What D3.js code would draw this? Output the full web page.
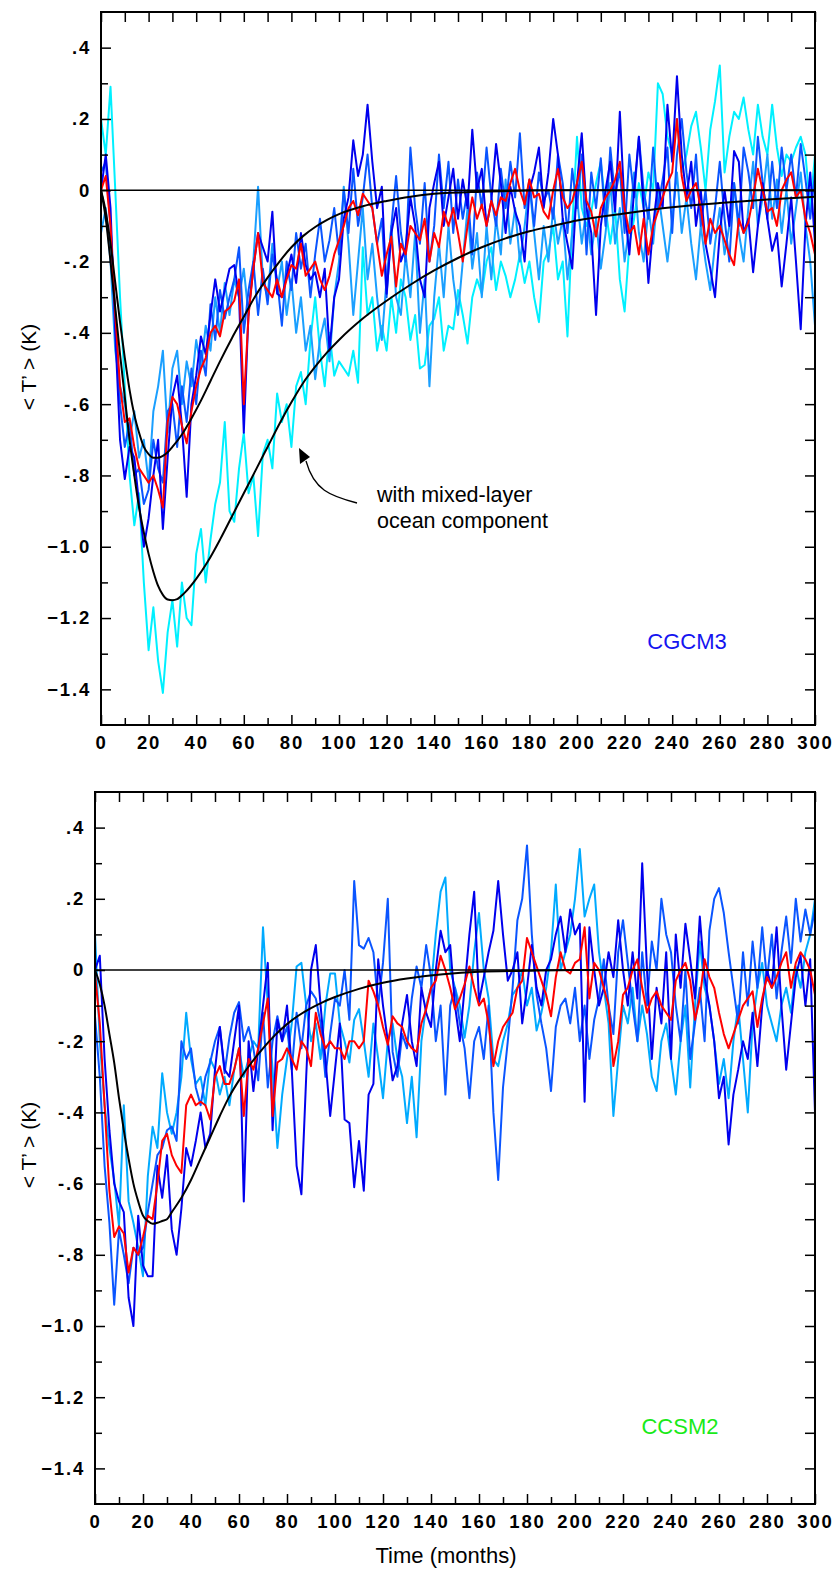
<!DOCTYPE html>
<html>
<head>
<meta charset="utf-8">
<script src="https://cdn.jsdelivr.net/npm/d3@7"></script>
<style>
  body { margin: 0; background: #fff; }
  svg { display: block; font-family: "Liberation Sans", Arial, Helvetica, sans-serif; }
  .tick text { font-weight: bold; font-size: 18.5px; letter-spacing: 1.8px; fill: #000; }
</style>
</head>
<body>
<div id="chart"></div>
<script>
// months sampled every 2 months, 0..300
var months = d3.range(0, 301, 2);

// ---- CGCM3 panel ----
var cgcmDark = [
  0.0, 0.1, -0.05, -0.4, -0.7, -0.81, -0.72, -0.75, -0.88, -1.0,
  -0.92, -0.8, -0.7, -0.95, -0.75, -0.58, -0.52, -0.66, -0.86, -0.6,
  -0.52, -0.41, -0.46, -0.35, -0.25, -0.34, -0.28, -0.22, -0.21, -0.3,
  -0.68, -0.34, -0.22, -0.12, -0.16, -0.2, -0.06, -0.29, -0.3, -0.24,
  -0.18, -0.26, -0.12, -0.21, -0.25, -0.23, -0.3, -0.22, -0.45, -0.3,
  -0.25, -0.08, -0.02, 0.14, 0.04, 0.1, 0.24, 0.08, -0.05, 0.01,
  -0.29, -0.12, -0.05, -0.2, -0.16, -0.02, -0.1, -0.25, -0.3, -0.05,
  0.02, 0.08, -0.1, -0.02, 0.06, -0.08, 0.03, -0.05, 0.17, 0.0,
  0.06, -0.1, -0.03, 0.13, 0.02, -0.12, 0.01, -0.06, -0.1, -0.2,
  0.0, 0.05, 0.12, -0.05, 0.05, 0.2, 0.1, -0.08, -0.15, -0.22,
  0.02, 0.16, -0.05, -0.12, -0.35, -0.1, 0.0, 0.08, -0.06, 0.22,
  -0.05, -0.18, 0.0, 0.15, -0.05, -0.26, -0.1, 0.02, -0.05, 0.24,
  0.08, 0.32, 0.1, -0.02, 0.08, -0.1, 0.0, -0.15, -0.22, -0.3,
  -0.12, 0.0, -0.1, 0.11, 0.08, -0.12, -0.08, -0.23, -0.1, 0.02,
  -0.08, -0.17, -0.12, -0.27, -0.15, -0.02, -0.2, -0.39, -0.1, 0.05,
  -0.15
];
var cgcmMid = [
  0.05, 0.08, -0.1, -0.35, -0.6, -0.72, -0.65, -0.8, -0.78, -0.88,
  -0.84, -0.7, -0.78, -0.82, -0.62, -0.6, -0.72, -0.55, -0.65, -0.5,
  -0.6, -0.45, -0.52, -0.32, -0.42, -0.28, -0.36, -0.3, -0.25, -0.16,
  -0.4, -0.28, -0.2, -0.35, -0.22, -0.32, -0.18, -0.25, -0.38, -0.2,
  -0.28, -0.12, -0.22, -0.15, -0.3, -0.18, -0.08, -0.2, -0.14, -0.05,
  -0.18, 0.0, -0.12, 0.06, -0.1, -0.02, 0.1, -0.05, -0.15, -0.08,
  -0.3, -0.1, 0.04, -0.12, -0.2, 0.12, -0.05, -0.15, 0.02, -0.2,
  -0.1, 0.1, -0.05, 0.08, -0.12, 0.03, -0.08, 0.0, -0.18, 0.05,
  -0.05, 0.12, -0.02, -0.1, 0.06, -0.05, 0.08, -0.02, 0.16, -0.05,
  0.03, -0.1, 0.05, -0.03, 0.0, -0.08, 0.1, 0.02, -0.12, 0.06,
  -0.05, 0.1, -0.18, 0.05, -0.05, 0.09, -0.1, 0.12, -0.02, 0.06,
  -0.12, 0.1, -0.02, 0.15, 0.0, -0.08, 0.12, -0.05, 0.03, 0.12,
  -0.12, 0.1, 0.2, 0.05, -0.05, 0.1, -0.1, 0.0, -0.15, -0.05,
  0.08, -0.08, -0.2, 0.02, -0.1, 0.12, 0.05, -0.05, 0.15, 0.02,
  -0.08, 0.08, -0.05, 0.12, 0.0, 0.1, -0.02, 0.13, 0.03, -0.08,
  0.05
];
var cgcmLight = [
  -0.12, -0.05, -0.2, -0.45, -0.55, -0.6, -0.7, -0.62, -0.75, -0.7,
  -0.82, -0.62, -0.55, -0.45, -0.68, -0.5, -0.45, -0.6, -0.48, -0.55,
  -0.42, -0.5, -0.38, -0.45, -0.3, -0.4, -0.26, -0.35, -0.25, -0.3,
  -0.22, -0.35, -0.2, 0.01, -0.25, -0.3, -0.15, -0.28, -0.2, -0.35,
  -0.25, -0.4, -0.3, -0.45, -0.38, -0.53, -0.42, -0.36, -0.48, -0.3,
  -0.2, 0.01, -0.15, -0.35, -0.2, -0.05, -0.25, -0.15, -0.3, -0.42,
  -0.25, -0.1, -0.3, -0.35, -0.18, -0.3, -0.12, -0.4, -0.25, -0.55,
  -0.3, -0.15, -0.3, -0.1, -0.25, -0.35, -0.2, -0.05, -0.22, -0.12,
  -0.3, -0.1, -0.25, -0.08, -0.18, 0.03, -0.15, -0.05, -0.2, -0.1,
  0.02, -0.12, -0.25, -0.1, -0.2, -0.05, -0.15, -0.08, -0.25, -0.12,
  -0.02, -0.15, -0.05, -0.18, -0.08, -0.22, -0.12, 0.02, -0.15, -0.05,
  -0.2, -0.1, 0.05, -0.12, -0.2, -0.05, -0.15, 0.0, -0.1, -0.2,
  -0.08, 0.05, -0.12, -0.02, -0.15, -0.25, -0.1, -0.2, -0.28, -0.15,
  -0.05, -0.18, -0.1, 0.02, -0.12, -0.2, -0.05, 0.08, -0.1, -0.02,
  0.1, -0.08, 0.03, -0.12, 0.0, -0.15, -0.05, 0.05, -0.1, -0.2,
  -0.38
];
// run with the mixed-layer ocean
var cgcmSlab = [
  0.2, 0.1, 0.29, 0.0, -0.3, -0.55, -0.8, -0.94, -0.85, -1.1,
  -1.29, -1.17, -1.32, -1.41, -1.24, -1.15, -1.28, -1.1, -1.2, -1.22,
  -1.02, -0.95, -1.1, -0.98, -0.88, -0.82, -0.65, -0.9, -0.93, -0.78,
  -0.68, -0.85, -0.8, -0.97, -0.74, -0.7, -0.78, -0.57, -0.65, -0.6,
  -0.72, -0.55, -0.51, -0.6, -0.42, -0.3, -0.45, -0.55, -0.4, -0.52,
  -0.48, -0.5, -0.52, -0.45, -0.54, -0.16, -0.35, -0.3, -0.45, -0.38,
  -0.45, -0.3, -0.4, -0.25, -0.3, -0.42, -0.35, -0.5, -0.49, -0.38,
  -0.36, -0.3, -0.45, -0.38, -0.39, -0.28, -0.35, -0.43, -0.3, -0.25,
  -0.29, -0.2, -0.16, -0.28, -0.2, -0.24, -0.3, -0.25, -0.18, -0.26,
  -0.2, -0.3, -0.37, -0.2, -0.17, -0.1, -0.25, -0.2, -0.41, -0.1,
  0.15, -0.05, -0.1, -0.06, 0.02, 0.08, -0.05, -0.15, -0.05, -0.25,
  -0.34, -0.15, -0.08, 0.02, -0.05, 0.05, 0.0, 0.3, 0.27, 0.15,
  0.1, 0.2, 0.05, 0.1, 0.18, 0.22, 0.12, 0.0, 0.17, 0.25,
  0.35, 0.05, 0.15, 0.22, 0.2, 0.26, 0.17, 0.1, 0.24, 0.15,
  0.1, 0.24, 0.12, 0.04, 0.1, 0.08, 0.12, 0.15, 0.1, -0.05,
  0.1
];
var cgcmMean = [
  0.0, 0.04, -0.1, -0.35, -0.55, -0.65, -0.64, -0.72, -0.78, -0.8,
  -0.82, -0.8, -0.84, -0.89, -0.65, -0.58, -0.6, -0.66, -0.71, -0.62,
  -0.55, -0.5, -0.47, -0.4, -0.38, -0.41, -0.34, -0.33, -0.31, -0.25,
  -0.6, -0.35, -0.22, -0.12, -0.26, -0.28, -0.3, -0.25, -0.3, -0.25,
  -0.21, -0.22, -0.15, -0.24, -0.22, -0.2, -0.25, -0.28, -0.24, -0.18,
  -0.14, -0.1, -0.05, -0.03, -0.07, -0.01, -0.03, -0.05, -0.15, -0.24,
  -0.18, -0.13, -0.27, -0.15, -0.18, -0.1, -0.12, -0.14, -0.08, -0.2,
  -0.12, -0.16, -0.06, -0.1, -0.05, -0.12, -0.2, -0.1, -0.02, -0.08,
  -0.04, -0.1, -0.03, -0.07, -0.02, -0.03, 0.02, 0.06, 0.0, -0.04,
  0.03, -0.02, -0.01, -0.06, -0.08, 0.0, 0.06, -0.02, -0.05, -0.03,
  0.02, 0.08, -0.03, -0.06, -0.13, -0.05, -0.02, 0.0, 0.03, 0.08,
  -0.05, -0.12, -0.1, -0.18, -0.08, -0.18, -0.1, -0.06, -0.02, 0.02,
  0.05, 0.2, 0.04, -0.03, 0.0, 0.02, -0.05, -0.15, -0.08, -0.12,
  -0.1, -0.14, -0.18, -0.21, -0.08, -0.12, -0.09, -0.02, 0.06, 0.0,
  -0.06, -0.05, -0.1, 0.0, 0.03, 0.05, -0.02, 0.0, -0.08, -0.12,
  -0.18
];
// fitted response curves
var cgcmFitMonths = [0, 2, 4, 6, 8, 10, 12, 14, 16, 18, 20, 22, 24, 26, 28, 30, 34, 38, 42, 46, 50, 55, 60, 65, 70, 75, 80, 85, 90, 95, 100, 110, 120, 130, 140, 160, 180, 200, 250, 300];
var cgcmFit = [0, -0.06, -0.15, -0.26, -0.37, -0.47, -0.56, -0.63, -0.68, -0.72, -0.74, -0.75, -0.75, -0.745, -0.735, -0.72, -0.685, -0.64, -0.59, -0.535, -0.48, -0.415, -0.355, -0.295, -0.245, -0.2, -0.16, -0.128, -0.103, -0.083, -0.067, -0.045, -0.03, -0.018, -0.01, -0.004, -0.001, 0, 0, 0];
var slabFitMonths = [0, 2, 4, 6, 8, 10, 12, 14, 16, 18, 20, 22, 24, 26, 28, 30, 32, 35, 40, 45, 50, 55, 60, 65, 70, 75, 80, 85, 90, 95, 100, 110, 120, 130, 140, 150, 160, 170, 180, 190, 200, 220, 240, 260, 280, 300];
var slabFit = [0, -0.08, -0.2, -0.33, -0.46, -0.58, -0.7, -0.8, -0.89, -0.96, -1.02, -1.07, -1.11, -1.135, -1.148, -1.15, -1.147, -1.13, -1.09, -1.04, -0.98, -0.915, -0.85, -0.785, -0.72, -0.655, -0.595, -0.54, -0.495, -0.455, -0.42, -0.36, -0.31, -0.265, -0.225, -0.19, -0.16, -0.135, -0.115, -0.1, -0.085, -0.065, -0.048, -0.036, -0.026, -0.018];

// ---- CCSM2 panel ----
var ccsmDark = [
  0.0, 0.04, -0.25, -0.45, -0.6, -0.65, -0.68, -0.92, -1.0, -0.69,
  -0.83, -0.86, -0.86, -0.55, -0.64, -0.52, -0.73, -0.8, -0.67, -0.5,
  -0.55, -0.48, -0.4, -0.5, -0.46, -0.28, -0.16, -0.28, -0.3, -0.2,
  -0.1, -0.65, -0.2, -0.34, -0.22, -0.1, 0.02, -0.45, -0.14, -0.2,
  -0.1, -0.28, -0.55, -0.63, -0.3, 0.0, 0.07, -0.1, -0.25, -0.41,
  -0.28, -0.15, -0.42, -0.43, -0.61, -0.48, -0.62, -0.35, -0.32, 0.03,
  -0.1, -0.2, -0.31, -0.27, -0.15, -0.07, -0.2, -0.27, -0.05, -0.12,
  -0.16, 0.0, 0.11, 0.05, 0.07, -0.1, -0.2, -0.05, 0.1, 0.22,
  -0.09, -0.02, 0.05, 0.11, 0.25, 0.1, -0.03, 0.0, 0.05, -0.15,
  -0.05, 0.07, -0.05, -0.1, 0.0, 0.03, 0.1, 0.15, 0.05, 0.17,
  0.1, 0.13, -0.37, 0.12, 0.0, -0.1, -0.05, 0.05, -0.02, 0.14,
  0.0, -0.1, 0.05, -0.08, 0.3, 0.0, -0.25, -0.05, -0.15, 0.05,
  -0.25, 0.1, -0.05, 0.13, 0.03, -0.08, 0.15, -0.02, -0.1, -0.2,
  -0.36, -0.3, -0.49, -0.35, -0.28, -0.2, -0.25, -0.12, -0.27, -0.1,
  0.0, -0.05, 0.12, -0.1, -0.28, -0.15, -0.02, 0.04, -0.1, 0.03,
  -0.4
];
var ccsmMid = [
  -0.13, -0.3, -0.55, -0.71, -0.94, -0.73, -0.8, -0.88, -0.78, -0.8,
  -0.78, -0.68, -0.6, -0.52, -0.5, -0.45, -0.44, -0.48, -0.2, -0.25,
  -0.22, -0.33, -0.38, -0.3, -0.26, -0.2, -0.16, -0.29, -0.19, -0.12,
  -0.09, -0.2, -0.16, -0.22, -0.31, -0.12, -0.33, -0.2, -0.13, -0.2,
  -0.16, -0.28, -0.12, -0.22, -0.1, -0.06, -0.08, -0.15, -0.3, -0.18,
  -0.08, -0.1, 0.0, -0.14, 0.25, 0.07, 0.06, 0.09, 0.05, -0.1,
  0.02, 0.2, -0.23, -0.3, -0.18, -0.22, -0.08, 0.01, -0.05, 0.07,
  -0.02, -0.2, -0.1, -0.35, -0.1, -0.05, -0.15, -0.22, -0.36, -0.2,
  -0.16, -0.25, -0.1, -0.4, -0.59, -0.33, -0.2, -0.05, 0.14, 0.2,
  0.35, 0.1, -0.07, -0.15, -0.22, -0.34, -0.16, -0.1, -0.08, -0.15,
  -0.05, -0.2, -0.1, -0.25, -0.14, -0.08, 0.03, -0.1, -0.18, 0.05,
  0.14, 0.02, -0.1, -0.2, 0.05, -0.1, 0.08, 0.0, 0.2, 0.1,
  0.05, -0.1, -0.2, 0.0, -0.25, -0.15, -0.05, -0.2, 0.11, 0.2,
  0.23, 0.16, 0.05, -0.05, -0.15, 0.05, -0.1, 0.08, -0.05, 0.12,
  -0.03, 0.1, -0.08, 0.05, 0.15, 0.02, 0.2, 0.08, 0.17, 0.1,
  0.17
];
var ccsmLight = [
  0.1, -0.2, -0.38, -0.5, -0.59, -0.72, -0.38, -0.65, -0.71, -0.78,
  -0.86, -0.58, -0.44, -0.5, -0.29, -0.4, -0.46, -0.4, -0.3, -0.12,
  -0.25, -0.32, -0.3, -0.38, -0.25, -0.28, -0.35, -0.3, -0.38, -0.28,
  -0.22, -0.3, -0.25, -0.2, -0.22, 0.12, -0.1, -0.28, -0.5, -0.35,
  -0.25, -0.15, 0.01, 0.02, -0.1, -0.2, -0.15, -0.25, -0.1, -0.01,
  -0.01, -0.15, -0.2, -0.26, -0.14, -0.11, -0.2, -0.3, -0.15, -0.25,
  -0.36, -0.2, -0.15, -0.25, -0.3, -0.43, -0.3, -0.47, -0.2, -0.1,
  -0.05, 0.1, 0.22, 0.26, 0.0, -0.05, -0.1, -0.19, -0.1, 0.05,
  0.16, 0.0, -0.08, -0.25, -0.27, -0.2, -0.15, -0.07, -0.05, 0.0,
  -0.1, -0.05, -0.17, -0.12, -0.05, 0.05, 0.24, 0.0, 0.05, 0.1,
  0.2, 0.34, 0.15, 0.2, 0.24, 0.05, -0.05, -0.15, -0.41, -0.25,
  -0.1, -0.15, -0.05, -0.2, -0.1, -0.18, -0.3, -0.34, -0.2, -0.15,
  -0.25, -0.35, -0.2, -0.1, -0.33, -0.1, 0.08, -0.05, -0.1, -0.2,
  -0.32, -0.25, -0.36, -0.2, -0.1, -0.25, -0.4, -0.15, -0.05, 0.02,
  -0.1, -0.15, -0.2, -0.1, -0.05, -0.12, 0.01, -0.05, 0.05, 0.1,
  0.2
];
var ccsmMean = [
  -0.01, -0.15, -0.38, -0.62, -0.75, -0.72, -0.74, -0.85, -0.78, -0.8,
  -0.75, -0.69, -0.7, -0.6, -0.48, -0.46, -0.52, -0.55, -0.57, -0.38,
  -0.35, -0.38, -0.37, -0.38, -0.42, -0.3, -0.27, -0.32, -0.32, -0.28,
  -0.22, -0.41, -0.25, -0.28, -0.22, -0.15, -0.08, -0.41, -0.26, -0.25,
  -0.22, -0.25, -0.28, -0.2, -0.22, -0.27, -0.12, -0.18, -0.22, -0.2,
  -0.22, -0.22, -0.25, -0.2, -0.2, -0.22, -0.2, -0.03, -0.06, -0.1,
  -0.16, -0.21, -0.13, -0.15, -0.16, -0.2, -0.22, -0.23, -0.15, -0.11,
  -0.05, -0.03, 0.04, 0.0, -0.05, -0.11, -0.08, -0.04, 0.01, -0.05,
  -0.1, -0.08, -0.15, -0.27, -0.2, -0.16, -0.14, -0.12, -0.05, -0.03,
  0.09, 0.05, 0.01, -0.03, -0.07, -0.13, -0.02, 0.05, 0.0, -0.01,
  0.02, 0.03, 0.12, -0.08, 0.02, 0.0, -0.05, -0.1, -0.27, -0.2,
  -0.07, -0.05, 0.0, 0.03, -0.05, -0.12, -0.08, -0.06, -0.1, -0.12,
  -0.14, -0.03, 0.0, 0.02, -0.03, -0.14, -0.08, 0.03, -0.02, -0.05,
  -0.12, -0.18, -0.22, -0.18, -0.14, -0.1, -0.08, -0.06, -0.16, -0.08,
  -0.02, -0.05, -0.02, 0.02, 0.05, -0.05, 0.02, 0.05, 0.03, 0.0,
  -0.07
];
var ccsmFitMonths = [0, 2, 4, 6, 8, 10, 12, 14, 16, 18, 20, 22, 24, 26, 28, 30, 32, 36, 40, 44, 48, 52, 56, 60, 65, 70, 75, 80, 85, 90, 95, 100, 110, 120, 130, 145, 160, 180, 200, 300];
var ccsmFit = [0, -0.04, -0.1, -0.18, -0.26, -0.36, -0.45, -0.53, -0.6, -0.65, -0.69, -0.705, -0.713, -0.71, -0.705, -0.7, -0.68, -0.64, -0.59, -0.53, -0.47, -0.41, -0.355, -0.31, -0.262, -0.22, -0.183, -0.152, -0.127, -0.107, -0.09, -0.076, -0.053, -0.036, -0.024, -0.012, -0.005, -0.002, 0, 0];

var xTicks = d3.range(0, 301, 20);
var yTicks = [0.4, 0.2, 0, -0.2, -0.4, -0.6, -0.8, -1.0, -1.2, -1.4];

var svgWidth = 838;
var svgHeight = 1570;

var svg = d3.select('#chart')
    .append('svg')
    .attr('width', svgWidth)
    .attr('height', svgHeight);

var panels = [
  {
    left: 101, right: 815, top: 12, bottom: 725,
    lines: [
      {v: cgcmSlab, color: '#00f0ff'},
      {v: cgcmLight, color: '#1a9fff'},
      {v: cgcmMid, color: '#0a55ff'},
      {v: cgcmDark, color: '#0000ee'},
      {v: cgcmMean, color: '#ff0000'}
    ],
    fits: [[cgcmFitMonths, cgcmFit], [slabFitMonths, slabFit]],
    name: 'CGCM3', nameColor: '#1414f0', nameX: 687, nameY: 649,
    labelY: 367
  },
  {
    left: 95, right: 815, top: 792, bottom: 1504,
    lines: [
      {v: ccsmLight, color: '#00aaff'},
      {v: ccsmMid, color: '#0a55ff'},
      {v: ccsmDark, color: '#0000ee'},
      {v: ccsmMean, color: '#ff0000'}
    ],
    fits: [[ccsmFitMonths, ccsmFit]],
    name: 'CCSM2', nameColor: '#19ea19', nameX: 680, nameY: 1434,
    labelY: 1145
  }
];

function yFormat(v) {
  if (v === 0) return '0';
  if (Math.abs(v) < 1) return (v < 0 ? '-' : '') + d3.format('.1f')(Math.abs(v)).replace(/^0/, '');
  return d3.format('.1f')(v);
}

panels.forEach(function(p) {
  var x = d3.scaleLinear().domain([0, 300]).range([p.left, p.right]);
  var y = d3.scaleLinear().domain([-1.5, 0.5]).range([p.bottom, p.top]);
  var g = svg.append('g');

  var clipId = 'clip' + p.top;
  g.append('clipPath').attr('id', clipId)
    .append('rect')
    .attr('x', p.left).attr('y', p.top)
    .attr('width', p.right - p.left).attr('height', p.bottom - p.top);

  var plot = g.append('g').attr('clip-path', 'url(#' + clipId + ')');

  var line = d3.line()
    .x(function(d, i) { return x(months[i]); })
    .y(function(d) { return y(d); });

  p.lines.forEach(function(s) {
    plot.append('path')
      .datum(s.v)
      .attr('d', line)
      .attr('fill', 'none')
      .attr('stroke', s.color)
      .attr('stroke-width', 2)
      .attr('stroke-linejoin', 'round');
  });

  // zero line
  plot.append('line')
    .attr('x1', x(0)).attr('x2', x(300))
    .attr('y1', y(0)).attr('y2', y(0))
    .attr('stroke', '#000')
    .attr('stroke-width', 1.5);

  p.fits.forEach(function(f) {
    var fitLine = d3.line()
      .x(function(d, i) { return x(f[0][i]); })
      .y(function(d) { return y(d); })
      .curve(d3.curveMonotoneX);
    plot.append('path')
      .datum(f[1])
      .attr('d', fitLine)
      .attr('fill', 'none')
      .attr('stroke', '#000')
      .attr('stroke-width', 2);
  });

  // axes: ticks point inward
  var minorX = d3.range(10, 300, 20);
  var minorY = [0.3, 0.1, -0.1, -0.3, -0.5, -0.7, -0.9, -1.1, -1.3];

  g.append('g')
    .attr('transform', 'translate(0,' + p.bottom + ')')
    .call(d3.axisBottom(x).tickValues(xTicks).tickSizeInner(-10).tickSizeOuter(0).tickPadding(11).tickFormat(d3.format('d')));
  g.append('g')
    .attr('transform', 'translate(0,' + p.bottom + ')')
    .call(d3.axisBottom(x).tickValues(minorX).tickSizeInner(-7).tickSizeOuter(0).tickFormat(''));
  g.append('g')
    .attr('transform', 'translate(0,' + p.top + ')')
    .call(d3.axisTop(x).tickValues(xTicks.concat(minorX)).tickSizeInner(-10).tickSizeOuter(0).tickFormat(''));

  g.append('g')
    .attr('transform', 'translate(' + p.left + ',0)')
    .call(d3.axisLeft(y).tickValues(yTicks).tickSizeInner(-10).tickSizeOuter(0).tickPadding(10).tickFormat(yFormat));
  g.append('g')
    .attr('transform', 'translate(' + p.left + ',0)')
    .call(d3.axisLeft(y).tickValues(minorY).tickSizeInner(-7).tickSizeOuter(0).tickFormat(''));
  g.append('g')
    .attr('transform', 'translate(' + p.right + ',0)')
    .call(d3.axisRight(y).tickValues(yTicks.concat(minorY)).tickSizeInner(-10).tickSizeOuter(0).tickFormat(''));

  g.selectAll('.domain').remove();
  g.selectAll('.tick line').attr('stroke', '#000').attr('stroke-width', 1.5);
  g.selectAll('.tick text').attr('font-family', null).attr('font-size', null);

  g.append('rect')
    .attr('x', p.left).attr('y', p.top)
    .attr('width', p.right - p.left).attr('height', p.bottom - p.top)
    .attr('fill', 'none')
    .attr('stroke', '#000')
    .attr('stroke-width', 2);

  g.append('text')
    .attr('x', p.nameX).attr('y', p.nameY)
    .attr('text-anchor', 'middle')
    .attr('font-size', 22)
    .attr('fill', p.nameColor)
    .text(p.name);

  g.append('text')
    .attr('transform', 'translate(36,' + p.labelY + ') rotate(-90)')
    .attr('text-anchor', 'middle')
    .attr('font-size', 21)
    .text('< T\u2019 > (K)');
});

// annotation on the top panel
svg.append('path')
  .attr('d', 'M357,503 C330,496 314,490 306,461')
  .attr('fill', 'none')
  .attr('stroke', '#000')
  .attr('stroke-width', 1.3);
svg.append('path')
  .attr('d', 'M299,448 L300,464 L310,457 Z')
  .attr('fill', '#000');
svg.append('text')
  .attr('x', 377).attr('y', 502)
  .attr('font-size', 21.5)
  .text('with mixed-layer');
svg.append('text')
  .attr('x', 377).attr('y', 528)
  .attr('font-size', 21.5)
  .text('ocean component');

svg.append('text')
  .attr('x', 446).attr('y', 1563)
  .attr('text-anchor', 'middle')
  .attr('font-size', 22)
  .text('Time (months)');
</script>
</body>
</html>
